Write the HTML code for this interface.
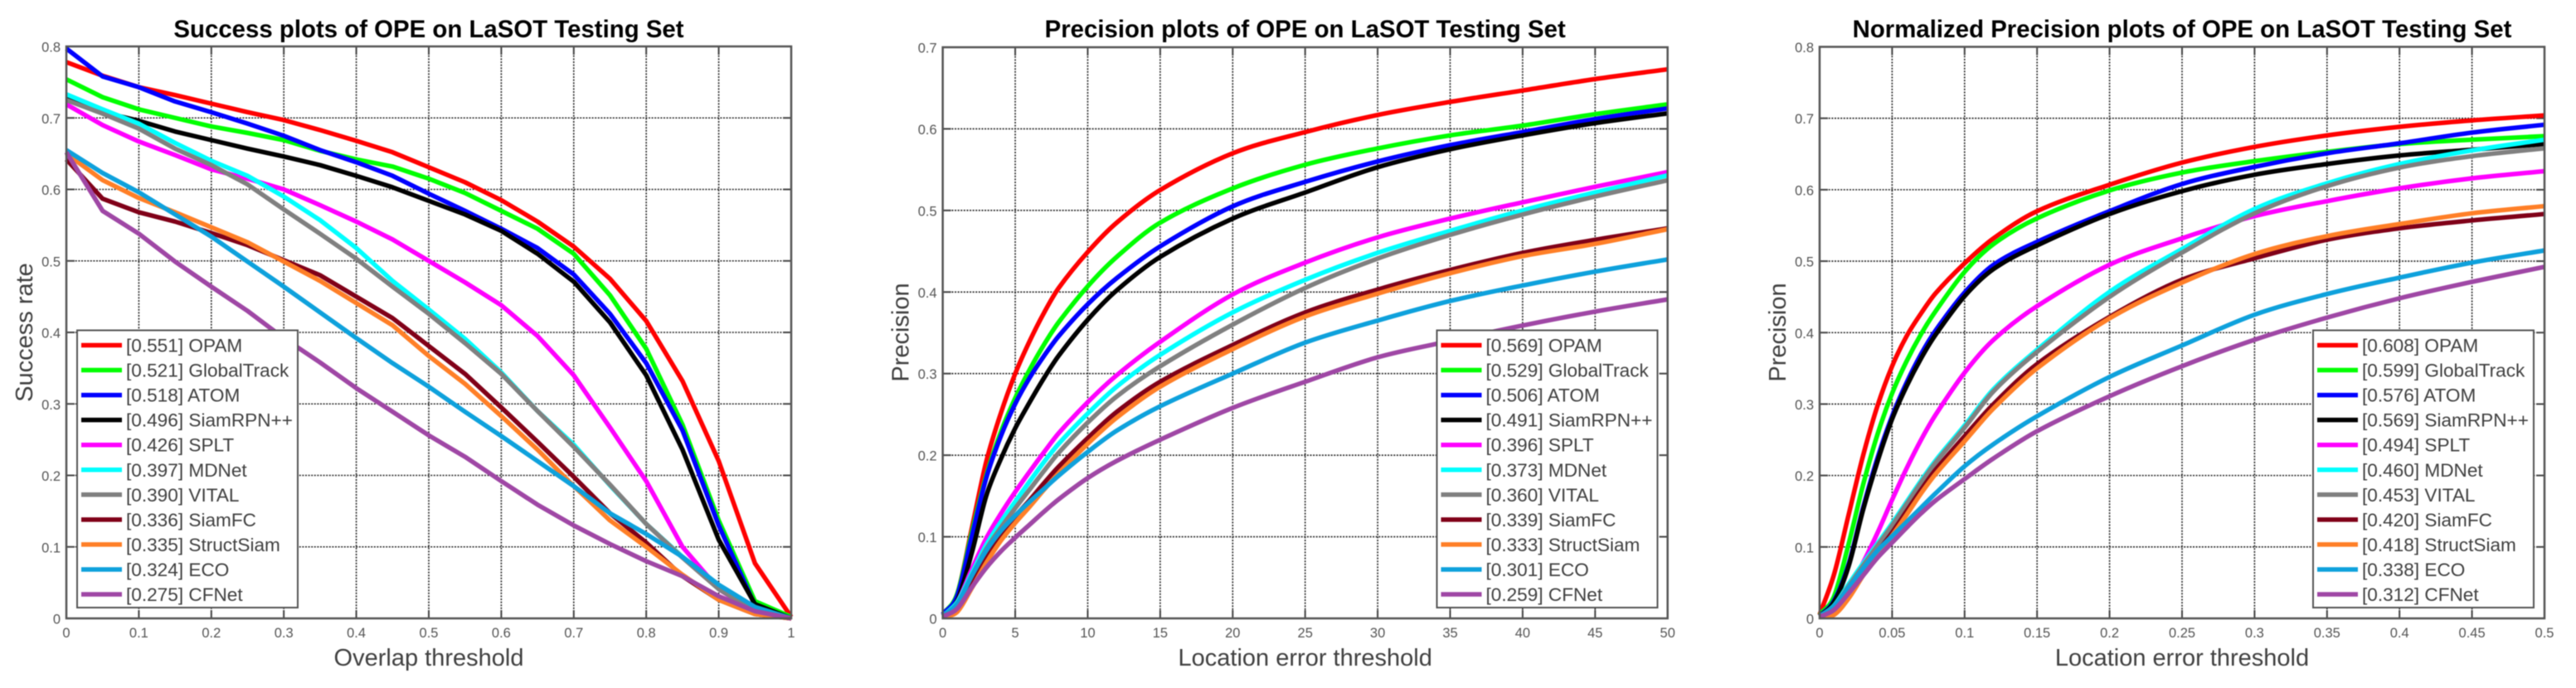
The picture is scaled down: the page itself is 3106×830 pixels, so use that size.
<!DOCTYPE html>
<html lang="en">
<head>
<meta charset="utf-8">
<title>OPE plots on LaSOT Testing Set</title>
<style>
  html, body { margin: 0; padding: 0; background: #fff; }
  body { width: 3106px; height: 830px; overflow: hidden; }
  #figure { display: block; filter: blur(0.6px); font-family: "Liberation Sans", Arial, sans-serif; }
  .title { font-size: 29.4px; font-weight: bold; fill: #000; text-anchor: middle; }
  .axis-label { font-size: 29px; fill: #404040; text-anchor: middle; }
  .tick-label { font-size: 16.5px; fill: #555; }
  .legend-label { font-size: 22.6px; fill: #404040; }
</style>
</head>
<body>
<svg id="figure" xmlns="http://www.w3.org/2000/svg" width="3106" height="830" viewBox="0 0 3106 830">
  <rect x="0" y="0" width="3106" height="830" fill="#fff"></rect>

  <g id="panel-success">
    <text class="title" x="517" y="45">Success plots of OPE on LaSOT Testing Set</text>
    <text class="axis-label" x="517" y="803">Overlap threshold</text>
    <text class="axis-label" transform="translate(39 401) rotate(-90)">Success rate</text>
  </g>

  <g id="panel-precision">
    <text class="title" x="1573.7" y="45">Precision plots of OPE on LaSOT Testing Set</text>
    <text class="axis-label" x="1573.7" y="803">Location error threshold</text>
    <text class="axis-label" transform="translate(1095.5 401) rotate(-90)">Precision</text>
  </g>

  <g id="panel-normalized">
    <text class="title" x="2631" y="45">Normalized Precision plots of OPE on LaSOT Testing Set</text>
    <text class="axis-label" x="2631" y="803">Location error threshold</text>
    <text class="axis-label" transform="translate(2153 401) rotate(-90)">Precision</text>
  </g>
</svg>

<script>
// ---- categories ----
const trackerNames = ['OPAM', 'GlobalTrack', 'ATOM', 'SiamRPN++', 'SPLT', 'MDNet', 'VITAL', 'SiamFC', 'StructSiam', 'ECO', 'CFNet'];
const trackerKeys = ['opam', 'globaltrack', 'atom', 'siamrpn', 'splt', 'mdnet', 'vital', 'siamfc', 'structsiam', 'eco', 'cfnet'];

// ---- legend scores ----
const successScores = ['0.551', '0.521', '0.518', '0.496', '0.426', '0.397', '0.390', '0.336', '0.335', '0.324', '0.275'];
const precisionScores = ['0.569', '0.529', '0.506', '0.491', '0.396', '0.373', '0.360', '0.339', '0.333', '0.301', '0.259'];
const normalizedScores = ['0.608', '0.599', '0.576', '0.569', '0.494', '0.460', '0.453', '0.420', '0.418', '0.338', '0.312'];

// ---- tick labels ----
const successXTicks = [0, 0.1, 0.2, 0.3, 0.4, 0.5, 0.6, 0.7, 0.8, 0.9, 1];
const successYTicks = [0, 0.1, 0.2, 0.3, 0.4, 0.5, 0.6, 0.7, 0.8];
const precisionXTicks = [0, 5, 10, 15, 20, 25, 30, 35, 40, 45, 50];
const precisionYTicks = [0, 0.1, 0.2, 0.3, 0.4, 0.5, 0.6, 0.7];
const normalizedXTicks = [0, 0.05, 0.1, 0.15, 0.2, 0.25, 0.3, 0.35, 0.4, 0.45, 0.5];
const normalizedYTicks = [0, 0.1, 0.2, 0.3, 0.4, 0.5, 0.6, 0.7, 0.8];

// ---- success plot: thresholds and series ----
const successThresholds = [0, 0.05, 0.1, 0.15, 0.2, 0.25, 0.3, 0.35, 0.4, 0.45, 0.5, 0.55, 0.6, 0.65, 0.7, 0.75, 0.8, 0.85, 0.9, 0.95, 1];
const successOpam = [0.778, 0.759, 0.743, 0.732, 0.72, 0.708, 0.697, 0.683, 0.668, 0.652, 0.631, 0.61, 0.585, 0.555, 0.52, 0.475, 0.416, 0.332, 0.22, 0.077, 0.002];
const successGlobalTrack = [0.754, 0.729, 0.712, 0.7, 0.688, 0.679, 0.669, 0.654, 0.642, 0.632, 0.615, 0.595, 0.57, 0.545, 0.51, 0.452, 0.377, 0.271, 0.137, 0.024, 0.002];
const successAtom = [0.797, 0.758, 0.743, 0.723, 0.708, 0.692, 0.675, 0.655, 0.638, 0.619, 0.594, 0.57, 0.545, 0.518, 0.481, 0.426, 0.357, 0.263, 0.13, 0.018, 0];
const successSiamRpn = [0.727, 0.708, 0.696, 0.681, 0.669, 0.657, 0.646, 0.634, 0.619, 0.603, 0.584, 0.565, 0.542, 0.51, 0.471, 0.414, 0.34, 0.236, 0.11, 0.02, 0];
const successSplt = [0.719, 0.69, 0.667, 0.648, 0.628, 0.615, 0.6, 0.578, 0.555, 0.53, 0.5, 0.47, 0.438, 0.395, 0.34, 0.267, 0.192, 0.1, 0.041, 0.008, 0];
const successMdnet = [0.733, 0.712, 0.692, 0.665, 0.64, 0.619, 0.59, 0.557, 0.518, 0.472, 0.432, 0.391, 0.344, 0.29, 0.243, 0.186, 0.132, 0.086, 0.043, 0.012, 0];
const successVital = [0.725, 0.706, 0.685, 0.657, 0.634, 0.607, 0.572, 0.538, 0.503, 0.464, 0.426, 0.385, 0.342, 0.29, 0.24, 0.187, 0.132, 0.085, 0.041, 0.01, 0];
const successSiamFc = [0.642, 0.587, 0.568, 0.555, 0.539, 0.522, 0.501, 0.48, 0.45, 0.42, 0.381, 0.342, 0.295, 0.247, 0.198, 0.147, 0.106, 0.059, 0.026, 0.006, 0];
const successStructSiam = [0.65, 0.613, 0.588, 0.568, 0.547, 0.526, 0.499, 0.472, 0.441, 0.41, 0.367, 0.328, 0.283, 0.236, 0.185, 0.137, 0.1, 0.061, 0.026, 0.006, 0];
const successEco = [0.655, 0.623, 0.596, 0.565, 0.534, 0.499, 0.464, 0.428, 0.392, 0.357, 0.324, 0.289, 0.255, 0.22, 0.185, 0.147, 0.118, 0.086, 0.047, 0.016, 0];
const successCfNet = [0.652, 0.57, 0.538, 0.499, 0.464, 0.43, 0.392, 0.358, 0.322, 0.289, 0.256, 0.226, 0.192, 0.159, 0.13, 0.104, 0.08, 0.059, 0.031, 0.01, 0];

// ---- precision plot: thresholds and series ----
const precisionThresholds = [0, 1, 2, 3, 4, 5, 6, 7, 8, 10, 12, 15, 20, 25, 30, 35, 40, 45, 50];
const precisionOpam = [0.005, 0.03, 0.11, 0.192, 0.251, 0.3, 0.34, 0.375, 0.405, 0.449, 0.485, 0.525, 0.57, 0.596, 0.617, 0.633, 0.647, 0.661, 0.673];
const precisionGlobalTrack = [0.005, 0.03, 0.105, 0.175, 0.228, 0.27, 0.305, 0.336, 0.363, 0.407, 0.443, 0.485, 0.527, 0.556, 0.576, 0.592, 0.604, 0.618, 0.63];
const precisionAtom = [0.005, 0.028, 0.1, 0.172, 0.223, 0.263, 0.295, 0.322, 0.346, 0.385, 0.417, 0.456, 0.505, 0.535, 0.56, 0.58, 0.596, 0.612, 0.625];
const precisionSiamRpn = [0.003, 0.022, 0.08, 0.15, 0.195, 0.233, 0.265, 0.295, 0.322, 0.366, 0.402, 0.443, 0.49, 0.522, 0.553, 0.575, 0.592, 0.607, 0.619];
const precisionSplt = [0.003, 0.02, 0.06, 0.098, 0.128, 0.155, 0.18, 0.204, 0.227, 0.265, 0.298, 0.339, 0.397, 0.436, 0.467, 0.49, 0.51, 0.529, 0.547];
const precisionMdnet = [0.003, 0.02, 0.055, 0.09, 0.118, 0.143, 0.168, 0.192, 0.214, 0.251, 0.284, 0.323, 0.375, 0.415, 0.448, 0.475, 0.5, 0.522, 0.543];
const precisionVital = [0.003, 0.018, 0.052, 0.085, 0.111, 0.135, 0.158, 0.181, 0.203, 0.24, 0.272, 0.309, 0.36, 0.405, 0.441, 0.47, 0.495, 0.517, 0.537];
const precisionSiamFc = [0.002, 0.012, 0.042, 0.075, 0.102, 0.125, 0.145, 0.166, 0.186, 0.221, 0.253, 0.29, 0.335, 0.375, 0.403, 0.427, 0.448, 0.464, 0.478];
const precisionStructSiam = [0.002, 0.008, 0.037, 0.068, 0.095, 0.117, 0.137, 0.158, 0.178, 0.214, 0.246, 0.284, 0.33, 0.37, 0.398, 0.423, 0.444, 0.459, 0.477];
const precisionEco = [0.003, 0.018, 0.052, 0.083, 0.107, 0.126, 0.143, 0.159, 0.175, 0.204, 0.23, 0.26, 0.3, 0.338, 0.365, 0.389, 0.408, 0.425, 0.44];
const precisionCfNet = [0.002, 0.012, 0.038, 0.062, 0.082, 0.099, 0.115, 0.131, 0.146, 0.172, 0.193, 0.219, 0.258, 0.29, 0.32, 0.34, 0.359, 0.376, 0.391];

// ---- normalized precision plot: thresholds and series ----
const normalizedThresholds = [0, 0.01, 0.02, 0.03, 0.04, 0.05, 0.06, 0.07, 0.08, 0.1, 0.12, 0.15, 0.2, 0.25, 0.3, 0.35, 0.4, 0.45, 0.5];
const normalizedOpam = [0.005, 0.062, 0.145, 0.228, 0.298, 0.353, 0.395, 0.427, 0.455, 0.497, 0.532, 0.57, 0.607, 0.638, 0.66, 0.676, 0.688, 0.697, 0.704];
const normalizedGlobalTrack = [0.005, 0.031, 0.104, 0.187, 0.258, 0.315, 0.36, 0.398, 0.43, 0.485, 0.524, 0.56, 0.599, 0.624, 0.64, 0.653, 0.664, 0.67, 0.675];
const normalizedAtom = [0.003, 0.025, 0.076, 0.155, 0.225, 0.283, 0.33, 0.37, 0.403, 0.456, 0.495, 0.527, 0.57, 0.608, 0.632, 0.651, 0.665, 0.68, 0.691];
const normalizedSiamRpn = [0.003, 0.023, 0.073, 0.152, 0.22, 0.279, 0.325, 0.364, 0.397, 0.451, 0.489, 0.522, 0.566, 0.598, 0.621, 0.636, 0.648, 0.656, 0.664];
const normalizedSplt = [0.003, 0.015, 0.04, 0.078, 0.12, 0.166, 0.21, 0.25, 0.285, 0.344, 0.39, 0.437, 0.495, 0.532, 0.563, 0.584, 0.602, 0.616, 0.626];
const normalizedMdnet = [0.003, 0.018, 0.048, 0.077, 0.105, 0.133, 0.163, 0.193, 0.221, 0.27, 0.321, 0.376, 0.457, 0.517, 0.573, 0.609, 0.636, 0.655, 0.67];
const normalizedVital = [0.003, 0.017, 0.045, 0.074, 0.102, 0.13, 0.16, 0.19, 0.218, 0.267, 0.318, 0.373, 0.45, 0.512, 0.567, 0.605, 0.631, 0.647, 0.658];
const normalizedSiamFc = [0.002, 0.006, 0.03, 0.063, 0.093, 0.12, 0.15, 0.18, 0.208, 0.255, 0.3, 0.356, 0.422, 0.474, 0.504, 0.53, 0.546, 0.557, 0.566];
const normalizedStructSiam = [0.002, 0.005, 0.028, 0.06, 0.09, 0.116, 0.145, 0.175, 0.202, 0.248, 0.294, 0.35, 0.42, 0.47, 0.51, 0.535, 0.552, 0.567, 0.577];
const normalizedEco = [0.003, 0.017, 0.043, 0.07, 0.095, 0.115, 0.135, 0.155, 0.175, 0.213, 0.244, 0.283, 0.338, 0.382, 0.425, 0.454, 0.477, 0.498, 0.515];
const normalizedCfNet = [0.002, 0.012, 0.035, 0.06, 0.085, 0.106, 0.127, 0.147, 0.165, 0.195, 0.224, 0.262, 0.311, 0.353, 0.39, 0.421, 0.448, 0.471, 0.492];

const successSeries = [successOpam, successGlobalTrack, successAtom, successSiamRpn, successSplt, successMdnet, successVital, successSiamFc, successStructSiam, successEco, successCfNet];
const precisionSeries = [precisionOpam, precisionGlobalTrack, precisionAtom, precisionSiamRpn, precisionSplt, precisionMdnet, precisionVital, precisionSiamFc, precisionStructSiam, precisionEco, precisionCfNet];
const normalizedSeries = [normalizedOpam, normalizedGlobalTrack, normalizedAtom, normalizedSiamRpn, normalizedSplt, normalizedMdnet, normalizedVital, normalizedSiamFc, normalizedStructSiam, normalizedEco, normalizedCfNet];

// ---- styling (separate from the data) ----
const seriesColors = ['#ff0000', '#00ff00', '#0000ff', '#000000', '#ff00ff', '#00ffff', '#808080', '#800018', '#ff7f27', '#0ea1dc', '#9f47a5'];
const SVG_NS = 'http://www.w3.org/2000/svg';

function svgEl(parent, tag, attrs, text) {
  const el = document.createElementNS(SVG_NS, tag);
  Object.keys(attrs).forEach(function (k) { el.setAttribute(k, attrs[k]); });
  if (text !== undefined) el.textContent = text;
  parent.appendChild(el);
  return el;
}

function linearScale(d0, d1, r0, r1) {
  return function (v) { return r0 + (v - d0) / (d1 - d0) * (r1 - r0); };
}

// Builds a path through the points; straight segments, or a Hermite curve when smooth is set.
function linePath(pts, smooth) {
  let d = 'M' + pts[0][0].toFixed(2) + ' ' + pts[0][1].toFixed(2);
  for (let i = 0; i < pts.length - 1; i++) {
    const a = pts[i], b = pts[i + 1];
    if (!smooth) {
      d += 'L' + b[0].toFixed(2) + ' ' + b[1].toFixed(2);
      continue;
    }
    const prev = pts[Math.max(i - 1, 0)], next = pts[Math.min(i + 2, pts.length - 1)];
    const slopeA = (b[1] - prev[1]) / (b[0] - prev[0]);
    const slopeB = (next[1] - a[1]) / (next[0] - a[0]);
    const h = (b[0] - a[0]) / 3;
    d += 'C' + (a[0] + h).toFixed(2) + ' ' + (a[1] + slopeA * h).toFixed(2) + ' ' +
         (b[0] - h).toFixed(2) + ' ' + (b[1] - slopeB * h).toFixed(2) + ' ' +
         b[0].toFixed(2) + ' ' + b[1].toFixed(2);
  }
  return d;
}

function drawPanel(cfg) {
  const root = document.getElementById(cfg.id);
  const xScale = linearScale(cfg.xTicks[0], cfg.xTicks[cfg.xTicks.length - 1], cfg.left, cfg.right);
  const yScale = linearScale(0, cfg.yTicks[cfg.yTicks.length - 1], cfg.bottom, cfg.top);

  // grid
  cfg.xTicks.slice(1, -1).forEach(function (t) {
    const el = svgEl(root, 'line', { x1: xScale(t), x2: xScale(t), y1: cfg.top, y2: cfg.bottom, stroke: '#222', 'stroke-width': 1.6, 'stroke-dasharray': '2 1.6' });
    
    
  });
  cfg.yTicks.slice(1, -1).forEach(function (t) {
    const el = svgEl(root, 'line', { x1: cfg.left, x2: cfg.right, y1: yScale(t), y2: yScale(t), stroke: '#222', 'stroke-width': 1.6, 'stroke-dasharray': '2 1.6' });
    
    
  });

  // tick marks and labels
  cfg.xTicks.forEach(function (t) {
    const bottomTick = svgEl(root, 'line', { x1: xScale(t), x2: xScale(t), y1: cfg.bottom, y2: cfg.bottom - 10, stroke: '#444', 'stroke-width': 2 });
    
    
    const topTick = svgEl(root, 'line', { x1: xScale(t), x2: xScale(t), y1: cfg.top, y2: cfg.top + 10, stroke: '#444', 'stroke-width': 2 });
    
    
    const label = svgEl(root, 'text', { class: 'tick-label', x: xScale(t), y: 769, 'text-anchor': 'middle' }, String(t));
    
    
  });
  cfg.yTicks.forEach(function (t) {
    const leftTick = svgEl(root, 'line', { x1: cfg.left, x2: cfg.left + 10, y1: yScale(t), y2: yScale(t), stroke: '#444', 'stroke-width': 2 });
    
    
    const rightTick = svgEl(root, 'line', { x1: cfg.right, x2: cfg.right - 10, y1: yScale(t), y2: yScale(t), stroke: '#444', 'stroke-width': 2 });
    
    
    const label = svgEl(root, 'text', { class: 'tick-label', x: cfg.left - 7, y: yScale(t) + 6.5, 'text-anchor': 'end' }, String(t));
    
    
  });

  // series
  cfg.series.forEach(function (values, i) {
    const pts = values.map(function (v, j) { return [xScale(cfg.thresholds[j]), yScale(v)]; });
    const line = svgEl(root, 'path', { d: linePath(pts, cfg.smooth), fill: 'none', stroke: seriesColors[i], 'stroke-width': 5.5, 'stroke-linejoin': 'round', 'stroke-linecap': 'butt' });
    
    
  });

  // frame
  const frame = svgEl(root, 'rect', { x: cfg.left, y: cfg.top, width: cfg.right - cfg.left, height: cfg.bottom - cfg.top, fill: 'none', stroke: '#555', 'stroke-width': 2.5 });
  
  

  // legend
  const box = svgEl(root, 'rect', { x: cfg.legendX, y: 398.5, width: 266, height: 334.5, fill: '#fff', stroke: '#555', 'stroke-width': 2 });
  
  
  trackerNames.forEach(function (name, i) {
    const rowY = 416.5 + i * 30.05;
    const swatch = svgEl(root, 'line', { x1: cfg.legendX + 5, x2: cfg.legendX + 54, y1: rowY, y2: rowY, stroke: seriesColors[i], 'stroke-width': 5.5 });
    
    
    const label = svgEl(root, 'text', { class: 'legend-label', x: cfg.legendX + 59, y: rowY + 8 }, '[' + cfg.scores[i] + '] ' + name);
    
    
  });
}

drawPanel({ id: 'panel-success', left: 80, right: 954, top: 56, bottom: 746, legendX: 93, smooth: false,
  xTicks: successXTicks, yTicks: successYTicks, thresholds: successThresholds, series: successSeries, scores: successScores });
drawPanel({ id: 'panel-precision', left: 1136.7, right: 2010.7, top: 57, bottom: 746, legendX: 1732.5, smooth: true,
  xTicks: precisionXTicks, yTicks: precisionYTicks, thresholds: precisionThresholds, series: precisionSeries, scores: precisionScores });
drawPanel({ id: 'panel-normalized', left: 2194, right: 3068, top: 56.5, bottom: 746, legendX: 2789, smooth: true,
  xTicks: normalizedXTicks, yTicks: normalizedYTicks, thresholds: normalizedThresholds, series: normalizedSeries, scores: normalizedScores });
</script>
</body>
</html>
